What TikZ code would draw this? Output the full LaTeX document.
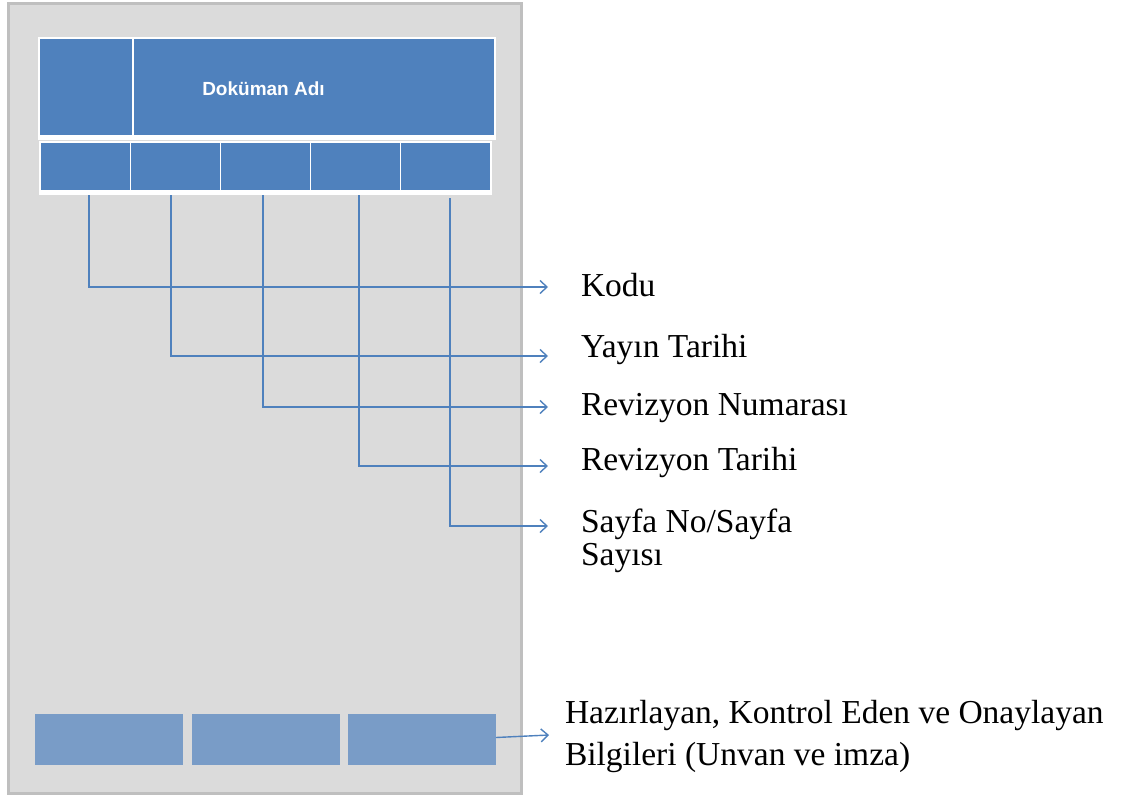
\documentclass[tikz,border=0pt]{standalone}
\usepackage{fontspec}
\setmainfont{Liberation Serif}
\newfontfamily\arialfont{Liberation Sans}
\usetikzlibrary{arrows.meta}
\definecolor{hdrblue}{HTML}{4F81BD}
\definecolor{lowblue}{HTML}{799CC7}
\definecolor{pagegray}{HTML}{DBDBDB}
\definecolor{edgegray}{HTML}{BFBFBF}
\begin{document}
\begin{tikzpicture}[x=1pt,y=-1pt,
  cell/.style={fill=hdrblue, draw=none, inner sep=0pt, outer sep=0pt, anchor=north west},
  rowcell/.style={cell, minimum width=88.5pt, minimum height=47pt},
  sigbox/.style={fill=lowblue, draw=none, inner sep=0pt, outer sep=0pt, anchor=north west,
                 minimum width=148pt, minimum height=51pt},
  lbl/.style={anchor=base west, inner sep=0pt, outer sep=0pt, align=left,
              font=\fontsize{33.5}{33}\selectfont},
  conn/.style={draw=hdrblue, line width=1.4pt,
               -{Straight Barb[length=7pt,width=13pt]}},
]
\useasboundingbox (0,0) rectangle (1140,798);
% page background
\path[fill=pagegray, draw=edgegray, line width=3pt] (8,3) rectangle (521,793);

% header block
\fill[white] (38,37) rectangle (496,140);
\node[cell, minimum width=92pt, minimum height=96pt] (hA) at (40,39) {};
\node[cell, minimum width=360pt, minimum height=96pt] (hB) at (134,39) {};
\node[text=white, font=\arialfont\bfseries\fontsize{19}{20}\selectfont, inner sep=0pt]
  (title) at (263.5,89) {Doküman Adı};

% info row
\fill[white] (39,141) rectangle (492,195);
\node[rowcell] (c1) at (41,143) {};
\node[rowcell] (c2) at (131,143) {};
\node[rowcell] (c3) at (221,143) {};
\node[rowcell] (c4) at (311,143) {};
\node[rowcell] (c5) at (401,143) {};

% labels
\node[lbl] (l1) at (581,296) {Kodu};
\node[lbl] (l2) at (581,357) {Yayın Tarihi};
\node[lbl] (l3) at (581,415) {Revizyon Numarası};
\node[lbl] (l4) at (581,470) {Revizyon Tarihi};
\node[lbl] (l5) at (581,565) {Sayfa No/Sayfa\\Sayısı};

% arrow end points
\coordinate (a1) at (548,287);
\coordinate (a2) at (548,356);
\coordinate (a3) at (548,407);
\coordinate (a4) at (548,466);
\coordinate (a5) at (548,526);

% connectors
\draw[conn] ([xshift=3.75pt,yshift=-5pt]c1.south) |- (a1);
\draw[conn] ([xshift=-4.25pt,yshift=-5pt]c2.south) |- (a2);
\draw[conn] ([xshift=-2.25pt,yshift=-5pt]c3.south) |- (a3);
\draw[conn] ([xshift=3.75pt,yshift=-5pt]c4.south) |- (a4);
\draw[conn] ([xshift=4.75pt,yshift=-8pt]c5.south) |- (a5);

% signature boxes
\node[sigbox] (s1) at (35,714) {};
\node[sigbox] (s2) at (192,714) {};
\node[sigbox] (s3) at (348,714) {};

\node[lbl, font=\fontsize{33.5}{42}\selectfont] (l6) at (565,765)
  {Hazırlayan, Kontrol Eden ve Onaylayan\\Bilgileri (Unvan ve imza)};
\coordinate (a6) at (549,735);
\draw[conn] ([yshift=2pt]s3.east) -- (a6);
\end{tikzpicture}
\end{document}
